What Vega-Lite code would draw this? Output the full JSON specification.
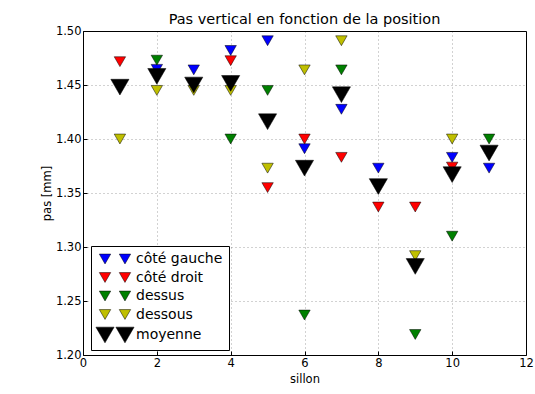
{
  "$schema": "https://vega.github.io/schema/vega-lite/v6.json",
  "width": 443,
  "height": 324,
  "autosize": {"type": "none"},
  "padding": {"left": 83, "top": 31, "right": 9, "bottom": 39},
  "background": "white",
  "title": {"text": "Pas vertical en fonction de la position", "fontSize": 14.5, "font": "DejaVu Sans", "fontWeight": "normal", "color": "#000", "offset": -2},
  "config": {
    "view": {"stroke": "#000", "strokeWidth": 1},
    "axis": {"labelFont": "DejaVu Sans", "titleFont": "DejaVu Sans", "labelFontSize": 11.5, "titleFontSize": 11.5, "titleFontWeight": "normal", "labelColor": "#000", "titleColor": "#000", "domain": false, "tickColor": "#000", "tickSize": -4, "grid": true, "gridColor": "#000", "gridOpacity": 0.6, "gridDash": [1, 3], "gridWidth": 0.6}
  },
  "data": {"values": [
    {"sillon": 2, "pas": 1.4645, "serie": "côté gauche"},
    {"sillon": 3, "pas": 1.464, "serie": "côté gauche"},
    {"sillon": 4, "pas": 1.482, "serie": "côté gauche"},
    {"sillon": 5, "pas": 1.491, "serie": "côté gauche"},
    {"sillon": 6, "pas": 1.391, "serie": "côté gauche"},
    {"sillon": 7, "pas": 1.4275, "serie": "côté gauche"},
    {"sillon": 8, "pas": 1.373, "serie": "côté gauche"},
    {"sillon": 10, "pas": 1.383, "serie": "côté gauche"},
    {"sillon": 11, "pas": 1.373, "serie": "côté gauche"},
    {"sillon": 1, "pas": 1.4716, "serie": "côté droit"},
    {"sillon": 4, "pas": 1.4725, "serie": "côté droit"},
    {"sillon": 5, "pas": 1.355, "serie": "côté droit"},
    {"sillon": 6, "pas": 1.4, "serie": "côté droit"},
    {"sillon": 7, "pas": 1.383, "serie": "côté droit"},
    {"sillon": 8, "pas": 1.337, "serie": "côté droit"},
    {"sillon": 9, "pas": 1.337, "serie": "côté droit"},
    {"sillon": 10, "pas": 1.374, "serie": "côté droit"},
    {"sillon": 2, "pas": 1.473, "serie": "dessus"},
    {"sillon": 4, "pas": 1.4, "serie": "dessus"},
    {"sillon": 5, "pas": 1.445, "serie": "dessus"},
    {"sillon": 6, "pas": 1.237, "serie": "dessus"},
    {"sillon": 7, "pas": 1.464, "serie": "dessus"},
    {"sillon": 9, "pas": 1.219, "serie": "dessus"},
    {"sillon": 10, "pas": 1.31, "serie": "dessus"},
    {"sillon": 11, "pas": 1.4, "serie": "dessus"},
    {"sillon": 1, "pas": 1.4, "serie": "dessous"},
    {"sillon": 2, "pas": 1.445, "serie": "dessous"},
    {"sillon": 3, "pas": 1.445, "serie": "dessous"},
    {"sillon": 4, "pas": 1.445, "serie": "dessous"},
    {"sillon": 5, "pas": 1.373, "serie": "dessous"},
    {"sillon": 6, "pas": 1.464, "serie": "dessous"},
    {"sillon": 7, "pas": 1.491, "serie": "dessous"},
    {"sillon": 9, "pas": 1.292, "serie": "dessous"},
    {"sillon": 10, "pas": 1.4, "serie": "dessous"},
    {"sillon": 1, "pas": 1.448, "serie": "moyenne"},
    {"sillon": 2, "pas": 1.458, "serie": "moyenne"},
    {"sillon": 3, "pas": 1.45, "serie": "moyenne"},
    {"sillon": 4, "pas": 1.4515, "serie": "moyenne"},
    {"sillon": 5, "pas": 1.416, "serie": "moyenne"},
    {"sillon": 6, "pas": 1.373, "serie": "moyenne"},
    {"sillon": 7, "pas": 1.441, "serie": "moyenne"},
    {"sillon": 8, "pas": 1.356, "serie": "moyenne"},
    {"sillon": 9, "pas": 1.282, "serie": "moyenne"},
    {"sillon": 10, "pas": 1.367, "serie": "moyenne"},
    {"sillon": 11, "pas": 1.387, "serie": "moyenne"}
  ]},
  "mark": {"type": "point", "shape": "triangle-down", "filled": true, "opacity": 1, "stroke": "#000", "strokeWidth": 0.5},
  "encoding": {
    "x": {"field": "sillon", "type": "quantitative", "title": "sillon", "scale": {"domain": [0, 12], "nice": false, "zero": false}, "axis": {"values": [0, 2, 4, 6, 8, 10, 12], "labelPadding": 6, "titlePadding": 5, "labelFlush": false}},
    "y": {"field": "pas", "type": "quantitative", "title": "pas [mm]", "scale": {"domain": [1.2, 1.5], "nice": false, "zero": false}, "axis": {"values": [1.2, 1.25, 1.3, 1.35, 1.4, 1.45, 1.5], "format": ".2f", "labelPadding": 6, "titlePadding": 3, "labelFlush": false}},
    "color": {"field": "serie", "type": "nominal", "scale": {"domain": ["côté gauche", "côté droit", "dessus", "dessous", "moyenne"], "range": ["#0000ff", "#ff0000", "#008000", "#bfbf00", "#000000"]},
      "legend": {"title": null, "orient": "none", "legendX": 8, "legendY": 215, "strokeColor": "#000", "fillColor": "#fff", "padding": 6, "labelFont": "DejaVu Sans", "labelFontSize": 14, "labelColor": "#000", "rowPadding": 4.5, "labelOffset": 25, "symbolStrokeWidth": 0.5, "symbolStrokeColor": "#000", "symbolOpacity": 1,
        "encode": {"symbols": {"update": {
          "size": {"signal": "datum.value === 'moyenne' ? 330 : 130"},
          "shape": {"signal": "datum.value === 'moyenne' ? 'M-0.89,-0.866L1.11,-0.866L0.11,0.866Z M1.31,-0.866L3.31,-0.866L2.31,0.866Z' : 'M-0.82,-0.866L1.18,-0.866L0.18,0.866Z M2.68,-0.866L4.68,-0.866L3.68,0.866Z'"}
        }}}}},
    "size": {"condition": {"test": "datum.serie === 'moyenne'", "value": 330}, "value": 130}
  }
}
